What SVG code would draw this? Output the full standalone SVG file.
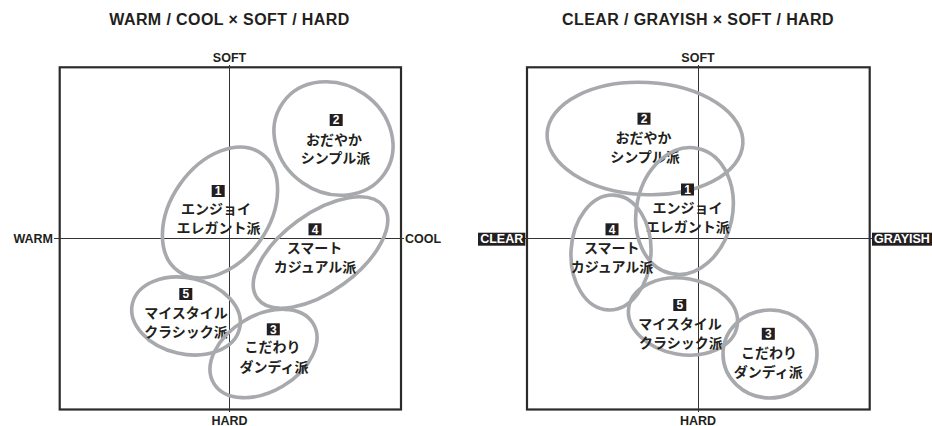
<svg xmlns="http://www.w3.org/2000/svg" width="932" height="426" viewBox="0 0 932 426">
<style>
.title{font-family:"Liberation Sans",Arial,sans-serif;font-weight:bold;font-size:16px;letter-spacing:0.4px;fill:#231f20;text-anchor:middle}
.ax{font-family:"Liberation Sans",Arial,sans-serif;font-weight:bold;font-size:12.5px;fill:#231f20}
.axw{font-family:"Liberation Sans",Arial,sans-serif;font-weight:bold;font-size:12.5px;fill:#fff;text-anchor:middle}
.frame{fill:none;stroke:#2b2b2b;stroke-width:2.2}
.axis{stroke:#333;stroke-width:1;fill:none}
.ell{fill:none;stroke:#a7a9ac;stroke-width:3.6}
.jp{font-family:"Noto Sans CJK JP","Noto Sans CJK SC",sans-serif;font-weight:bold;font-size:14px;fill:#231f20;text-anchor:middle}
.badge{fill:#231f20}
.num{font-family:"Liberation Sans",Arial,sans-serif;font-weight:bold;font-size:12px;fill:#fff;text-anchor:middle}
</style>

<!-- Left chart -->
<g id="left-chart">
<text class="title" x="229.5" y="25">WARM / COOL × SOFT / HARD</text>
<rect class="frame" x="59.7" y="67.3" width="341.3" height="342.2"/>
<g id="left-axes">
<line class="axis" x1="229.5" y1="65" x2="229.5" y2="412"/>
<line class="axis" x1="54" y1="238.5" x2="404" y2="238.5"/>
</g>
<text class="ax" x="229.5" y="62.3" text-anchor="middle">SOFT</text>
<text class="ax" x="229.5" y="424.8" text-anchor="middle">HARD</text>
<text class="ax" x="53" y="242.5" text-anchor="end">WARM</text>
<text class="ax" x="405" y="242.5">COOL</text>
</g>

<g id="L2">
<ellipse class="ell" cx="333.5" cy="138.5" rx="62" ry="54" transform="rotate(35 333.5 138.5)"/>
<rect class="badge" x="329.7" y="114" width="13" height="12"/>
<text class="num" x="336.2" y="124.4">2</text>
<text class="jp" x="334" y="144.5">おだやか</text>
<text class="jp" x="335.5" y="163.3">シンプル派</text>
</g>
<g id="L1">
<ellipse class="ell" cx="220" cy="212.5" rx="72" ry="49" transform="rotate(-55 220 212.5)"/>
<rect class="badge" x="211.7" y="185" width="13" height="12"/>
<text class="num" x="218.2" y="195.4">1</text>
<text class="jp" x="216" y="214.3">エンジョイ</text>
<text class="jp" x="218.5" y="232.7">エレガント派</text>
</g>
<g id="L4">
<ellipse class="ell" cx="320.5" cy="252.5" rx="78" ry="39" transform="rotate(-36 320.5 252.5)"/>
<rect class="badge" x="308.5" y="223.3" width="13" height="12"/>
<text class="num" x="315" y="233.7">4</text>
<text class="jp" x="314.5" y="253.3">スマート</text>
<text class="jp" x="315" y="271.7">カジュアル派</text>
</g>
<g id="L5">
<ellipse class="ell" cx="186" cy="316" rx="55" ry="38" transform="rotate(13 186 316)"/>
<rect class="badge" x="179.3" y="288" width="13" height="12"/>
<text class="num" x="185.8" y="298.4">5</text>
<text class="jp" x="186" y="318.3">マイスタイル</text>
<text class="jp" x="186" y="336.7">クラシック派</text>
</g>
<g id="L3">
<ellipse class="ell" cx="263.5" cy="353.5" rx="58" ry="38" transform="rotate(-31 263.5 353.5)"/>
<rect class="badge" x="266.8" y="323.3" width="13" height="12"/>
<text class="num" x="273.3" y="333.7">3</text>
<text class="jp" x="272.5" y="352.3">こだわり</text>
<text class="jp" x="274" y="371.7">ダンディ派</text>
</g>

<!-- Right chart -->
<g id="right-chart">
<text class="title" x="698" y="25">CLEAR / GRAYISH × SOFT / HARD</text>
<rect class="frame" x="527" y="67.3" width="342.7" height="342.2"/>
<g id="right-axes">
<line class="axis" x1="698.5" y1="65" x2="698.5" y2="412"/>
<line class="axis" x1="525" y1="238.5" x2="872" y2="238.5"/>
</g>
<text class="ax" x="698" y="62.3" text-anchor="middle">SOFT</text>
<text class="ax" x="698" y="424.8" text-anchor="middle">HARD</text>
<rect x="478" y="232.7" width="47.3" height="13" fill="#231f20"/>
<text class="axw" x="501.7" y="242.7">CLEAR</text>
<rect x="872" y="232.7" width="60" height="13" fill="#231f20"/>
<text class="axw" x="902" y="242.7">GRAYISH</text>
</g>

<g id="R2">
<ellipse class="ell" cx="645" cy="138.5" rx="98" ry="56" transform="rotate(3 645 138.5)"/>
<rect class="badge" x="637.5" y="112.7" width="13" height="12"/>
<text class="num" x="644" y="123.1">2</text>
<text class="jp" x="643.5" y="143">おだやか</text>
<text class="jp" x="645" y="162">シンプル派</text>
</g>
<g id="R1">
<ellipse class="ell" cx="684.5" cy="211" rx="48" ry="64" transform="rotate(12 684.5 211)"/>
<rect class="badge" x="681" y="183.5" width="13" height="12"/>
<text class="num" x="687.5" y="193.9">1</text>
<text class="jp" x="687.5" y="213">エンジョイ</text>
<text class="jp" x="687.7" y="231.7">エレガント派</text>
</g>
<g id="R4">
<ellipse class="ell" cx="611" cy="252.5" rx="40" ry="57.5" transform="rotate(3 611 252.5)"/>
<rect class="badge" x="605.5" y="223.3" width="13" height="12"/>
<text class="num" x="612" y="233.7">4</text>
<text class="jp" x="611.8" y="253.3">スマート</text>
<text class="jp" x="612" y="271.7">カジュアル派</text>
</g>
<g id="R5">
<ellipse class="ell" cx="683" cy="316.5" rx="55" ry="38" transform="rotate(10 683 316.5)"/>
<rect class="badge" x="673.3" y="299" width="13" height="12"/>
<text class="num" x="679.8" y="309.4">5</text>
<text class="jp" x="680" y="328.8">マイスタイル</text>
<text class="jp" x="680.8" y="347.5">クラシック派</text>
</g>
<g id="R3">
<ellipse class="ell" cx="770" cy="354" rx="47" ry="44"/>
<rect class="badge" x="761.8" y="327.8" width="13" height="12"/>
<text class="num" x="768.3" y="338.2">3</text>
<text class="jp" x="769" y="357.8">こだわり</text>
<text class="jp" x="768.3" y="376.5">ダンディ派</text>
</g>
</svg>
